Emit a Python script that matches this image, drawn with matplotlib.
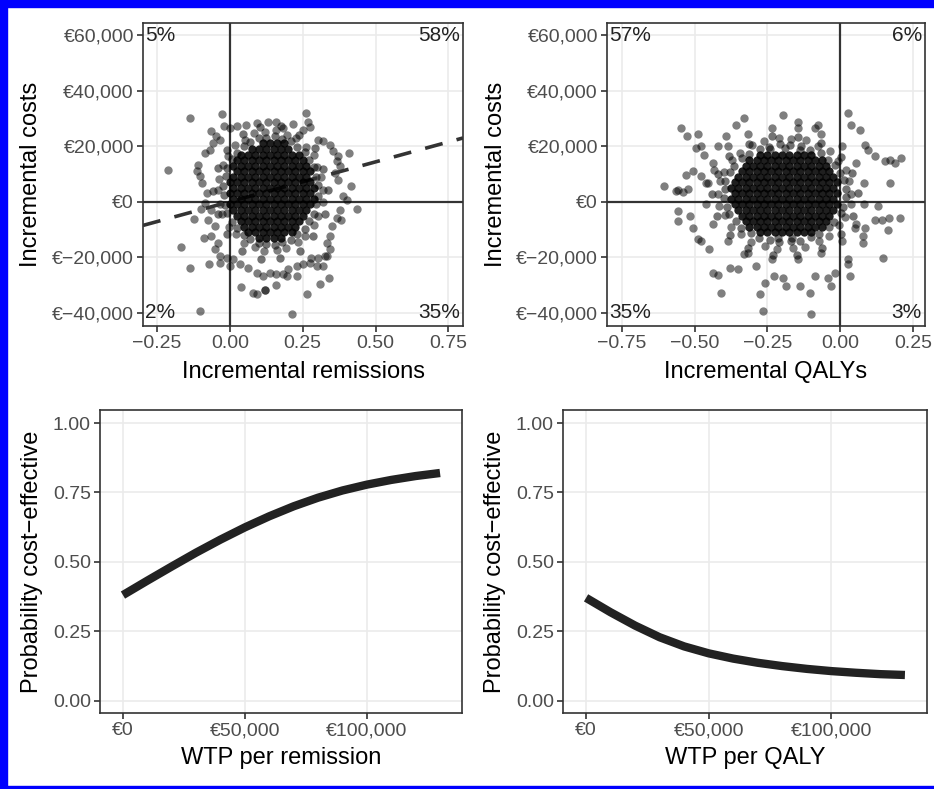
import numpy as np
import matplotlib
matplotlib.use('Agg')
import matplotlib.pyplot as plt
from matplotlib.patches import Rectangle
from matplotlib.ticker import FuncFormatter

plt.rcParams['font.family'] = ['Liberation Sans', 'DejaVu Sans']

# ---- data (costs in thousands of euro) ----
# remission plane: scattered simulations
rem_x = [
    -0.137, -0.026, 0.260, 0.269, 0.275, 0.217, -0.212, 0.409, 0.414, 0.435,
    -0.168, -0.137, -0.071, -0.088, -0.100, -0.122, -0.101, 0.212, 0.266, 0.340,
    0.321, 0.334, 0.309, 0.080, 0.092, 0.038, 0.120, 0.160, 0.229, 0.183,
    -0.034, 0.000, 0.122,
    -0.063, -0.046, -0.019, 0.000, 0.023, 0.057, 0.092, 0.132, 0.157, 0.183,
    0.252, 0.303, 0.321, 0.343, 0.355, 0.372, 0.366, 0.378, 0.361, 0.372,
    0.389, 0.401, 0.378, 0.366, 0.383, 0.349, 0.343, 0.332, 0.343, 0.326,
    0.303, 0.280, 0.298, 0.275, 0.252, 0.229, 0.200, 0.195, 0.160, 0.137,
    0.114, 0.092, 0.063, 0.034, 0.011, -0.011, -0.034, -0.052, -0.040, -0.063,
    -0.052, -0.074, -0.063, -0.086, -0.080, -0.097, -0.103, -0.114, -0.109, -0.086,
    -0.069, -0.057, -0.034,
    0.320, 0.312, 0.300, 0.288, 0.262, 0.228, 0.197, 0.158, 0.122, 0.083,
    0.052, 0.018, -0.008, -0.022, -0.038, -0.042, -0.033, -0.027, -0.002, 0.022,
    0.048, 0.087, 0.118, 0.163, 0.192, 0.233, 0.258, 0.288, 0.302, 0.318,
]
rem_cost = [
    30.3, 31.5, 31.8, 28.9, 26.8, 27.9, 11.3, 17.5, 5.5, -2.6,
    -16.3, -23.8, -22.6, -13.1, -2.5, -6.1, -39.5, -40.6, -33.2, -27.4,
    -23.2, -19.6, -29.8, -32.8, -33.4, -30.6, -32.0, -30.2, -26.8, -26.2,
    -22.0, -23.2, -31.9,
    25.3, 23.5, 27.1, 26.5, 27.1, 27.7, 28.2, 28.8, 28.8, 26.5,
    25.9, 22.3, 21.7, 20.5, 18.1, 16.3, 14.5, 12.7, 10.3, 7.9,
    1.9, 0.7, -2.9, -5.9, -6.5, -8.9, -12.4, -14.8, -17.2, -19.6,
    -20.2, -20.2, -23.2, -22.0, -22.6, -23.2, -24.4, -26.8, -26.2, -25.6,
    -26.8, -25.6, -23.8, -22.6, -20.8, -20.2, -19.6, -17.2, -14.8, -12.4,
    -8.9, -6.5, -2.9, -0.5, 3.1, 6.7, 9.1, 10.9, 13.3, 17.5,
    18.7, 21.1, 22.3,
    4.2, 8.8, 12.5, 16.9, 19.7, 22.9, 24.2, 25.8, 25.1, 24.8,
    22.4, 20.3, 16.4, 13.1, 8.2, 4.3, -0.8, -4.5, -9.0, -11.7,
    -15.0, -16.2, -17.8, -17.3, -16.8, -14.4, -12.3, -8.4, -5.1, -0.2,
]
# crowded band just around the dense centre
rem_ring_x = [
    0.303, 0.294, 0.289, 0.271, 0.257, 0.231, 0.211, 0.180, 0.156, 0.124,
    0.099, 0.069, 0.049, 0.023, 0.009, -0.009, -0.014, -0.023, -0.019, -0.018,
    -0.009, 0.009, 0.023, 0.049, 0.069, 0.100, 0.124, 0.156, 0.180, 0.211,
    0.231, 0.257, 0.271, 0.289, 0.294, 0.303,
    0.337, 0.321, 0.291, 0.236, 0.176, 0.104, 0.045, -0.011, -0.041, -0.057,
    -0.041, -0.011, 0.041, 0.108, 0.172, 0.240, 0.287, 0.325,
]
rem_ring_cost = [
    5.9, 8.8, 12.4, 14.9, 17.9, 19.7, 21.8, 22.5, 23.6, 23.1,
    22.9, 21.4, 20.1, 17.5, 15.3, 12.0, 9.2, 5.5, 2.5, -1.2,
    -4.0, -7.3, -9.5, -12.1, -13.4, -14.9, -15.1, -15.5, -14.5, -13.8,
    -11.7, -9.9, -6.9, -4.4, -0.8, 2.1,
    4.3, 11.8, 19.2, 24.1, 27.2, 26.8, 24.5, 18.8, 12.2, 3.8,
    -4.4, -11.8, -17.6, -20.5, -20.2, -17.8, -12.2, -4.5,
]
# densest part of the remission cloud (overlapping simulations)
rem_core_x = [
    0.10, 0.125, 0.15, 0.175,
    0.0625, 0.0875, 0.1125, 0.1375, 0.1625, 0.1875, 0.2125,
    0.05, 0.075, 0.10, 0.125, 0.15, 0.175, 0.20, 0.225,
    0.0375, 0.0625, 0.0875, 0.1125, 0.1375, 0.1625, 0.1875, 0.2125, 0.2375,
    0.025, 0.05, 0.075, 0.10, 0.125, 0.15, 0.175, 0.20, 0.225, 0.25,
    0.0125, 0.0375, 0.0625, 0.0875, 0.1125, 0.1375, 0.1625, 0.1875, 0.2125, 0.2375, 0.2625,
    0.0, 0.025, 0.05, 0.075, 0.10, 0.125, 0.15, 0.175, 0.20, 0.225, 0.25, 0.275,
    0.0125, 0.0375, 0.0625, 0.0875, 0.1125, 0.1375, 0.1625, 0.1875, 0.2125, 0.2375, 0.2625, 0.2875,
    0.0, 0.025, 0.05, 0.075, 0.10, 0.125, 0.15, 0.175, 0.20, 0.225, 0.25, 0.275,
    0.0125, 0.0375, 0.0625, 0.0875, 0.1125, 0.1375, 0.1625, 0.1875, 0.2125, 0.2375, 0.2625, 0.2875,
    0.0, 0.025, 0.05, 0.075, 0.10, 0.125, 0.15, 0.175, 0.20, 0.225, 0.25, 0.275,
    0.0125, 0.0375, 0.0625, 0.0875, 0.1125, 0.1375, 0.1625, 0.1875, 0.2125, 0.2375, 0.2625,
    0.025, 0.05, 0.075, 0.10, 0.125, 0.15, 0.175, 0.20, 0.225, 0.25, 0.275,
    0.0125, 0.0375, 0.0625, 0.0875, 0.1125, 0.1375, 0.1625, 0.1875, 0.2125, 0.2375, 0.2625,
    0.025, 0.05, 0.075, 0.10, 0.125, 0.15, 0.175, 0.20, 0.225, 0.25,
    0.0375, 0.0625, 0.0875, 0.1125, 0.1375, 0.1625, 0.1875, 0.2125, 0.2375,
    0.075, 0.10, 0.125, 0.15, 0.175, 0.20,
    0.1125, 0.1375, 0.1625, 0.1875,
]
rem_core_cost = ([-13] * 4 + [-11] * 7 + [-9] * 8 + [-7] * 9 + [-5] * 10 + [-3] * 11
                 + [-1] * 12 + [1] * 12 + [3] * 12 + [5] * 12 + [7] * 12 + [9] * 11
                 + [11] * 11 + [13] * 11 + [15] * 10 + [17] * 9 + [19] * 6 + [21] * 4)

# QALY plane
qaly_x = [
    -0.546, -0.525, -0.489, -0.603, -0.563, -0.555, -0.540, -0.523, -0.529, -0.506,
    -0.495, -0.477, -0.466, -0.557, -0.555, -0.517, -0.506, -0.489, -0.477, -0.452,
    -0.437, -0.418, -0.409, -0.380, -0.351, -0.329, -0.288, -0.277, -0.266, -0.260,
    -0.226, -0.197, -0.185, -0.140, -0.105, -0.100, -0.088, -0.042, -0.031, -0.019,
    0.026, 0.032, 0.026, 0.078, 0.078, 0.049, 0.084, 0.147, 0.118, 0.141,
    0.164, 0.166, 0.204, 0.129, 0.169, 0.152, 0.169, 0.187, 0.209, 0.118,
    0.095, 0.084, 0.066, 0.038, 0.026, -0.077, -0.088, -0.145, -0.197, -0.329,
    -0.357, -0.391, -0.420, -0.432, -0.477, -0.454,
    0.038, 0.031, 0.020, -0.008, -0.035, -0.078, -0.118, -0.168, -0.212, -0.262,
    -0.302, -0.345, -0.372, -0.400, -0.411, -0.420, -0.415, -0.396, -0.376, -0.341,
    -0.306, -0.258, -0.216, -0.164, -0.122, -0.074, -0.039, -0.004, 0.016, 0.035,
    0.082, 0.055, 0.004, -0.065, -0.147, -0.233, -0.315, -0.384, -0.435, -0.462,
    -0.462, -0.435, -0.384, -0.315, -0.233, -0.147, -0.065, 0.004, 0.055, 0.082,
]
qaly_cost = [
    26.5, 23.5, 24.3, 5.7, 3.7, 4.3, 3.4, 4.5, 9.7, 10.9,
    19.3, 19.9, 16.9, -3.5, -7.1, -5.3, -9.5, -13.6, -14.2, -17.2,
    -25.6, -26.5, -33.0, -23.8, -24.4, -19.0, -23.2, -33.4, -39.4, -29.2,
    -26.8, -27.4, -30.4, -30.4, -32.8, -40.6, -26.8, -27.4, -30.4, -25.6,
    -22.6, -26.8, -20.8, -14.8, -12.4, -9.5, -9.5, -20.2, -6.5, -6.5,
    -10.1, -5.9, -5.9, -1.7, 6.7, 14.5, 15.1, 13.9, 15.7, 16.3,
    18.7, 20.5, 25.9, 27.7, 31.8, 27.7, 26.5, 28.8, 31.2, 30.3,
    27.7, 23.5, 19.9, 11.5, 9.1, 6.7,
    2.6, 7.5, 11.3, 14.5, 18.2, 20.0, 22.3, 22.6, 23.1, 21.7,
    20.6, 17.5, 15.1, 10.8, 7.4, 2.7, -1.5, -4.8, -9.1, -11.6,
    -14.6, -15.8, -17.2, -16.6, -16.3, -14.0, -12.2, -8.5, -5.4, -0.9,
    6.7, 13.9, 20.0, 24.4, 26.7, 26.7, 24.4, 20.0, 13.9, 6.7,
    -0.7, -7.9, -14.0, -18.4, -20.7, -20.7, -18.4, -14.0, -7.9, -0.7,
]
qaly_ring_x = [
    0.018, 0.014, -0.003, -0.017, -0.044, -0.068, -0.104, -0.134, -0.174, -0.206,
    -0.246, -0.276, -0.312, -0.336, -0.363, -0.377, -0.394, -0.396, -0.400, -0.390,
    -0.381, -0.359, -0.340, -0.308, -0.280, -0.242, -0.210, -0.170, -0.138, -0.100,
    -0.072, -0.040, -0.021, 0.001, 0.010, 0.020,
    0.059, 0.040, 0.001, -0.068, -0.145, -0.235, -0.312, -0.381, -0.420, -0.439,
    -0.424, -0.377, -0.316, -0.231, -0.149, -0.064, 0.003, 0.044,
    -0.240, -0.190, -0.140, -0.215, -0.165,
]
qaly_ring_cost = [
    4.4, 7.8, 10.2, 13.3, 15.2, 17.6, 18.7, 20.2, 20.3, 20.7,
    19.8, 19.1, 17.2, 15.6, 12.9, 10.6, 7.4, 4.7, 1.3, -1.8,
    -4.6, -7.0, -9.6, -11.2, -13.1, -13.8, -14.7, -14.3, -14.2, -12.7,
    -11.6, -9.2, -7.3, -4.2, -1.8, 1.7,
    3.2, 10.3, 16.2, 21.2, 23.3, 23.7, 20.8, 16.6, 9.9, 2.8,
    -5.1, -11.9, -16.8, -19.3, -19.1, -16.6, -11.8, -5.0,
    19.0, 19.4, 18.8, -13.2, -13.0,
]
qaly_core_x = [
    -0.275, -0.25, -0.225, -0.20, -0.175, -0.15, -0.125, -0.10,
    -0.3125, -0.2875, -0.2625, -0.2375, -0.2125, -0.1875, -0.1625, -0.1375, -0.1125, -0.0875, -0.0625,
    -0.325, -0.30, -0.275, -0.25, -0.225, -0.20, -0.175, -0.15, -0.125, -0.10, -0.075, -0.05,
    -0.3375, -0.3125, -0.2875, -0.2625, -0.2375, -0.2125, -0.1875, -0.1625, -0.1375, -0.1125, -0.0875, -0.0625, -0.0375,
    -0.35, -0.325, -0.30, -0.275, -0.25, -0.225, -0.20, -0.175, -0.15, -0.125, -0.10, -0.075, -0.05, -0.025,
    -0.3625, -0.3375, -0.3125, -0.2875, -0.2625, -0.2375, -0.2125, -0.1875, -0.1625, -0.1375, -0.1125, -0.0875, -0.0625, -0.0375, -0.0125,
    -0.375, -0.35, -0.325, -0.30, -0.275, -0.25, -0.225, -0.20, -0.175, -0.15, -0.125, -0.10, -0.075, -0.05, -0.025,
    -0.3625, -0.3375, -0.3125, -0.2875, -0.2625, -0.2375, -0.2125, -0.1875, -0.1625, -0.1375, -0.1125, -0.0875, -0.0625, -0.0375, -0.0125,
    -0.375, -0.35, -0.325, -0.30, -0.275, -0.25, -0.225, -0.20, -0.175, -0.15, -0.125, -0.10, -0.075, -0.05, -0.025,
    -0.3625, -0.3375, -0.3125, -0.2875, -0.2625, -0.2375, -0.2125, -0.1875, -0.1625, -0.1375, -0.1125, -0.0875, -0.0625, -0.0375, -0.0125,
    -0.35, -0.325, -0.30, -0.275, -0.25, -0.225, -0.20, -0.175, -0.15, -0.125, -0.10, -0.075, -0.05, -0.025,
    -0.3375, -0.3125, -0.2875, -0.2625, -0.2375, -0.2125, -0.1875, -0.1625, -0.1375, -0.1125, -0.0875, -0.0625, -0.0375,
    -0.325, -0.30, -0.275, -0.25, -0.225, -0.20, -0.175, -0.15, -0.125, -0.10, -0.075, -0.05,
    -0.3125, -0.2875, -0.2625, -0.2375, -0.2125, -0.1875, -0.1625, -0.1375, -0.1125, -0.0875, -0.0625,
    -0.275, -0.25, -0.225, -0.20, -0.175, -0.15, -0.125, -0.10,
]
qaly_core_cost = ([-11] * 8 + [-9] * 11 + [-7] * 12 + [-5] * 13 + [-3] * 14 + [-1] * 15
                  + [1] * 15 + [3] * 15 + [5] * 15 + [7] * 15 + [9] * 14 + [11] * 13
                  + [13] * 12 + [15] * 11 + [17] * 8)

icer_remission = 28700          # slope of dashed threshold line (euro per remission)
rem_quadrants = ['5%', '58%', '2%', '35%']    # NW, NE, SW, SE
qaly_quadrants = ['57%', '6%', '35%', '3%']

wtp = [0, 10000, 20000, 30000, 40000, 50000, 60000, 70000, 80000, 90000,
       100000, 110000, 120000, 130000]
ceac_remission = [0.38, 0.432, 0.483, 0.533, 0.58, 0.624, 0.664, 0.70, 0.731, 0.757,
                  0.778, 0.795, 0.809, 0.82]
ceac_qaly = [0.37, 0.318, 0.27, 0.228, 0.195, 0.17, 0.151, 0.136, 0.124, 0.114,
             0.106, 0.10, 0.095, 0.092]

W, H = 934, 789
fig = plt.figure(figsize=(W / 100, H / 100), dpi=100)
fig.patches.append(Rectangle((0, 1 - 7 / H), 1, 7 / H, transform=fig.transFigure,
                             color='#0000ff', zorder=10))
fig.patches.append(Rectangle((0, 0), 7 / W, 1, transform=fig.transFigure,
                             color='#0000ff', zorder=10))
fig.patches.append(Rectangle((0, 0), 1, 3.5 / H, transform=fig.transFigure,
                             color='#0000ff', zorder=10))


def add_ax(x0, y0, x1, y1):
    return fig.add_axes([x0 / W, 1 - y1 / H, (x1 - x0) / W, (y1 - y0) / H])


def euro(v, pos=None):
    s = f'{abs(v):,.0f}'
    return ('€\u2212' if v < 0 else '€') + s


def minus(v, pos=None):
    return f'{v:.2f}'.replace('-', '\u2212')


def style(ax):
    for sp in ax.spines.values():
        sp.set_color('#333333')
        sp.set_linewidth(1.2)
    ax.grid(True, color='#ebebeb', lw=1.2)
    ax.set_axisbelow(True)
    ax.tick_params(length=4, width=1.2, color='#333333', labelcolor='#4d4d4d',
                   labelsize=14, pad=2.5)


def plane(ax, pts, xlim, xticks, xlabel, quads):
    style(ax)
    ax.axhline(0, color='#333333', lw=1.6, zorder=1)
    ax.axvline(0, color='#333333', lw=1.6, zorder=1)
    # outer points, crowded band, dense centre
    for (xs, ys), a, z in zip(pts, (0.5, 0.55, 0.88), (2, 2, 3)):
        ax.scatter(xs, np.array(ys) * 1000, s=36, color='black', alpha=a,
                   linewidths=0, zorder=z)
    ax.set_xlim(*xlim)
    ax.set_ylim(-44800, 64400)
    ax.set_xticks(xticks)
    ax.set_yticks([-40000, -20000, 0, 20000, 40000, 60000])
    ax.yaxis.set_major_formatter(FuncFormatter(euro))
    ax.xaxis.set_major_formatter(FuncFormatter(minus))
    ax.set_xlabel(xlabel, fontsize=17, va='center')
    ax.xaxis.set_label_coords(0.5, -0.152)
    ax.set_ylabel('Incremental costs', fontsize=17, va='center')
    kw = dict(fontsize=15, color='#222222', va='center',
              transform=ax.get_yaxis_transform())
    ax.text(0.006, 60000, quads[0], ha='left', **kw)
    ax.text(0.99, 60000, quads[1], ha='right', **kw)
    ax.text(0.006, -40000, quads[2], ha='left', **kw)
    ax.text(0.99, -40000, quads[3], ha='right', **kw)


def ceac(ax, ys, xlabel):
    style(ax)
    ax.plot(wtp, ys, color='#222222', lw=6, solid_capstyle='butt',
            solid_joinstyle='round')
    ax.set_xlim(-9400, 139000)
    ax.set_ylim(-0.045, 1.047)
    ax.set_xticks([0, 50000, 100000])
    ax.set_yticks([0, 0.25, 0.5, 0.75, 1.0])
    ax.xaxis.set_major_formatter(FuncFormatter(euro))
    ax.yaxis.set_major_formatter(FuncFormatter(minus))
    ax.set_xlabel(xlabel, fontsize=17, va='center')
    ax.xaxis.set_label_coords(0.5, -0.149)
    ax.set_ylabel('Probability cost\u2212effective', fontsize=17, va='center')


ax1 = add_ax(143, 23, 463, 326)
plane(ax1, [(rem_x, rem_cost), (rem_ring_x, rem_ring_cost), (rem_core_x, rem_core_cost)],
      (-0.298, 0.80), [-0.25, 0, 0.25, 0.5, 0.75], 'Incremental remissions', rem_quadrants)
ax1.axline((0, 0), slope=icer_remission, color='#333333', lw=2.6,
           linestyle=(0, (5, 4)), zorder=2.5)
ax1.yaxis.set_label_coords((31 - 143) / 320, 0.5)

ax2 = add_ax(607, 23, 925, 326)
plane(ax2, [(qaly_x, qaly_cost), (qaly_ring_x, qaly_ring_cost), (qaly_core_x, qaly_core_cost)],
      (-0.80, 0.29), [-0.75, -0.5, -0.25, 0, 0.25], 'Incremental QALYs', qaly_quadrants)
ax2.yaxis.set_label_coords((496 - 607) / 318, 0.5)

ax3 = add_ax(100, 410, 462, 713)
ceac(ax3, ceac_remission, 'WTP per remission')
ax3.yaxis.set_label_coords((32 - 100) / 362, 0.5)

ax4 = add_ax(563, 410, 927, 713)
ceac(ax4, ceac_qaly, 'WTP per QALY')
ax4.yaxis.set_label_coords((495 - 563) / 364, 0.5)

fig.savefig('out.png', dpi=100)
